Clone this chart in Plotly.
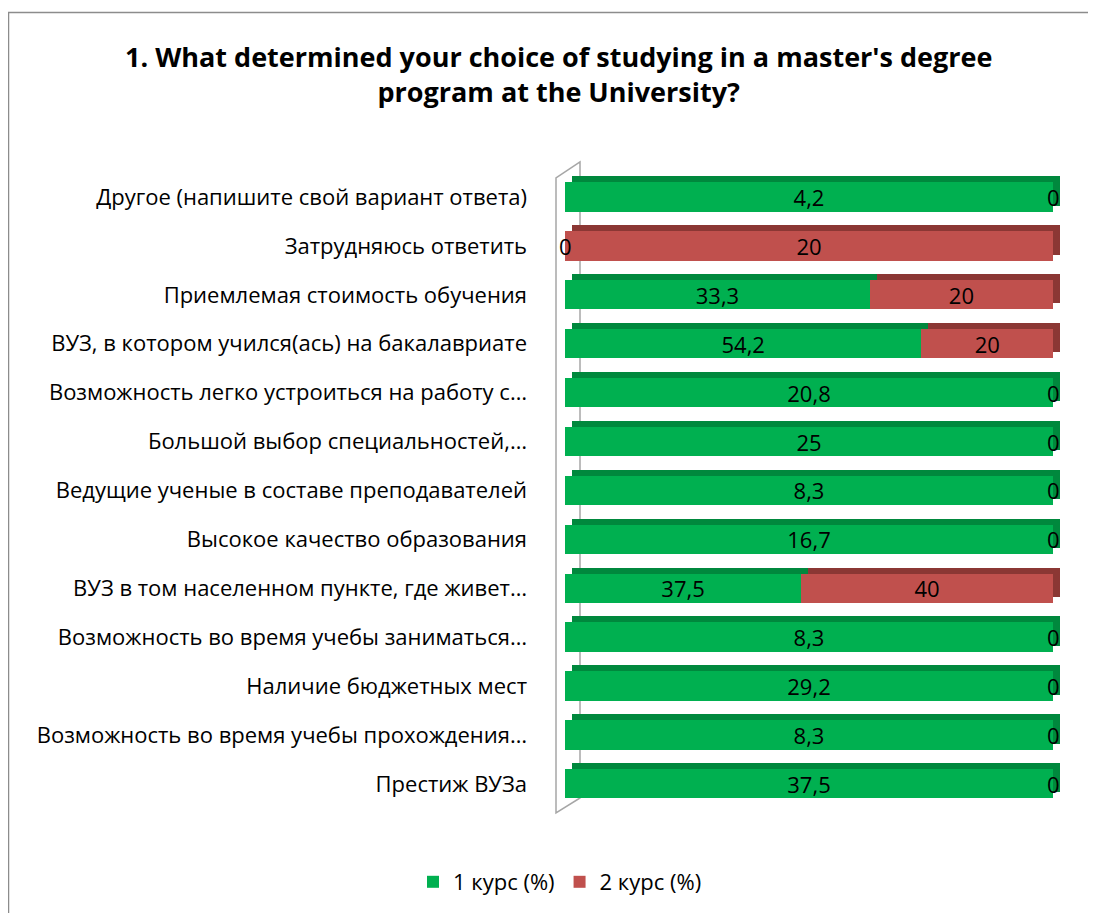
import plotly.graph_objects as go

# --- data (top to bottom as shown) ---
categories = [
    "Другое (напишите свой вариант ответа)",
    "Затрудняюсь ответить",
    "Приемлемая стоимость обучения",
    "ВУЗ, в котором учился(ась) на бакалавриате",
    "Возможность легко устроиться на работу с…",
    "Большой выбор специальностей,…",
    "Ведущие ученые в составе преподавателей",
    "Высокое качество образования",
    "ВУЗ в том населенном пункте, где живет…",
    "Возможность во время учебы заниматься…",
    "Наличие бюджетных мест",
    "Возможность во время учебы прохождения…",
    "Престиж ВУЗа",
]
course1 = [4.2, 0, 33.3, 54.2, 20.8, 25, 8.3, 16.7, 37.5, 8.3, 29.2, 8.3, 37.5]
course2 = [0, 20, 20, 20, 0, 0, 0, 0, 40, 0, 0, 0, 0]
series_names = ["1 курс (%)", "2 курс (%)"]
title_text = "1. What determined your choice of studying in a master's degree<br>program at the University?"

# --- layout geometry (pixels, measured on the page; the page body adds 8px) ---
OFF = 8
W, H = 1096, 913
L, R = 565 - OFF, 1067 - OFF   # plot area left/right
T, B = 158 - OFF, 814 - OFF    # plot area top/bottom
BAR_LEN = 488                  # pixel length of a 100% bar
ROW0 = 197 - OFF               # centre of first row
PITCH = 48.9                   # row pitch
DX, DY = 7, 6                  # 3-D depth offset

FONT = "Open Sans"
FS = 22
GREEN, GREEN_D = "#00B050", "#00883D"
RED, RED_D = "#C0504D", "#8B3734"

k = BAR_LEN / 100.0


def px(xp):
    return (xp - OFF - L) / (R - L)


def py(yp):
    return (B - (yp - OFF)) / (B - T)


def fmt(v):
    return f"{v:g}".replace(".", ",")


fig = go.Figure()

# depth (back) bars on x/y, drawn underneath
for vals, col in [(course1, GREEN_D), (course2, RED_D)]:
    fig.add_trace(go.Bar(
        y=categories, x=vals, orientation="h", width=0.6,
        marker=dict(color=col, line=dict(width=0)),
        showlegend=False, hoverinfo="skip",
        xaxis="x", yaxis="y",
    ))

# front bars on x2/y2
for vals, col, name in [(course1, GREEN, series_names[0]), (course2, RED, series_names[1])]:
    fig.add_trace(go.Bar(
        y=categories, x=vals, orientation="h", width=0.6, name=name,
        marker=dict(color=col, line=dict(width=0)),
        text=[fmt(v) if v else "" for v in vals],
        textposition="inside", insidetextanchor="middle", textangle=0,
        constraintext="none", cliponaxis=False,
        insidetextfont=dict(family=FONT, size=FS, color="black"),
        xaxis="x2", yaxis="y2",
    ))

# zero labels at the segment position
annotations = []
for i, (a, b) in enumerate(zip(course1, course2)):
    tot = a + b
    if a == 0:
        annotations.append(dict(x=0, y=categories[i], xref="x2", yref="y2", text="0",
                                showarrow=False, font=dict(family=FONT, size=FS, color="black")))
    if b == 0:
        annotations.append(dict(x=100 if tot else 0, y=categories[i], xref="x2", yref="y2", text="0",
                                showarrow=False, font=dict(family=FONT, size=FS, color="black")))

annotations.append(dict(
    text="<b>" + title_text + "</b>", xref="paper", yref="paper",
    x=px(558), y=py(74), xanchor="center", yanchor="middle", showarrow=False,
    font=dict(family=FONT, size=27, color="black"), align="center",
))

top_front = (T - ROW0) / PITCH
bot_front = (B - ROW0) / PITCH
top_back = (T - (ROW0 - DY)) / PITCH
bot_back = (B - (ROW0 - DY)) / PITCH

# back wall
wall = (f"M {px(556)} {py(178)} L {px(556)} {py(813)} L {px(580)} {py(798)} "
        f"L {px(580)} {py(162)} Z")
shapes = [
    dict(type="path", path=wall, xref="paper", yref="paper", layer="below",
         line=dict(color="#A6A6A6", width=1.5), fillcolor="rgba(0,0,0,0)"),
    dict(type="rect", xref="paper", yref="paper", x0=px(8.5), y0=py(12.5), x1=px(1120), y1=py(940),
         line=dict(color="#8C8C8C", width=1.5), fillcolor="rgba(0,0,0,0)", layer="below"),
]

fig.update_layout(
    width=W, height=H,
    margin=dict(l=L, r=W - R, t=T, b=H - B, pad=0),
    barmode="stack", barnorm="percent",
    plot_bgcolor="white", paper_bgcolor="white",
    font=dict(family=FONT, size=FS, color="black"),
    xaxis=dict(range=[-DX / k, (R - L - DX) / k], visible=False, fixedrange=True),
    yaxis=dict(range=[bot_back, top_back], visible=False, type="category",
               categoryorder="array", categoryarray=categories),
    xaxis2=dict(range=[0, (R - L) / k], overlaying="x", visible=False),
    yaxis2=dict(range=[bot_front, top_front], overlaying="y", side="left", type="category",
                categoryorder="array", categoryarray=categories,
                showgrid=False, showline=False, ticks="", ticklabelstandoff=37,
                tickfont=dict(family=FONT, size=FS, color="black")),
    legend=dict(orientation="h", xref="container", yref="container", traceorder="normal",
                x=(560 - OFF) / W, y=1 - (882 - OFF) / H, xanchor="center", yanchor="middle",
                font=dict(family=FONT, size=FS, color="black"), itemwidth=30),
    annotations=annotations,
    shapes=shapes,
    showlegend=True,
)

fig.write_html("out.html")
